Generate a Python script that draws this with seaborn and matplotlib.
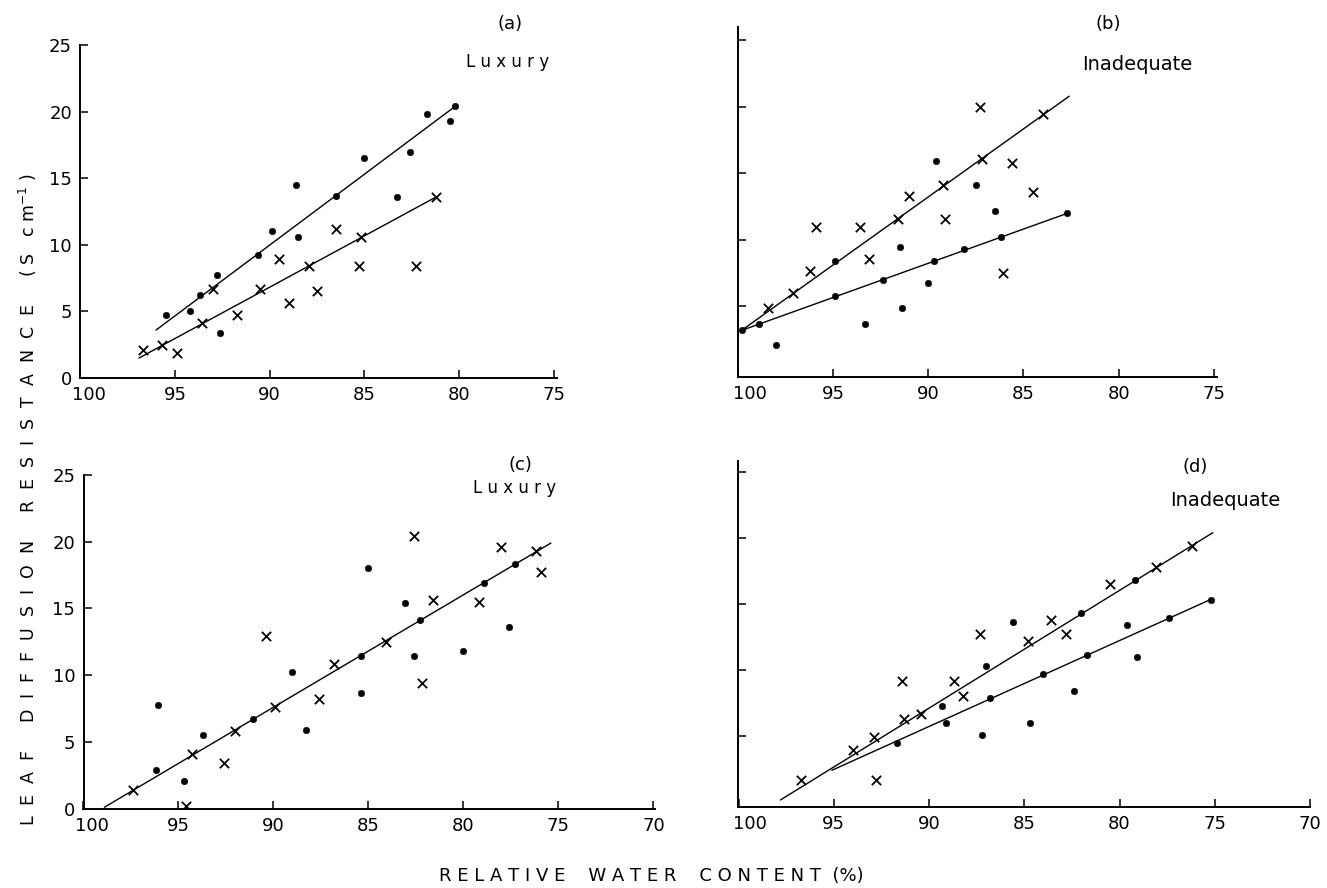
import matplotlib
matplotlib.use("Agg")
import matplotlib.pyplot as plt
import matplotlib.transforms as mtransforms
import seaborn as sns

# Panel (a) Luxury
a_cross_x = [96.7, 95.7, 94.9, 93.6, 93.0, 91.7, 90.5, 89.5, 89.0, 87.9, 87.5, 86.5, 85.3, 85.2, 82.3, 81.2]
a_cross_y = [2.1, 2.5, 1.9, 4.1, 6.7, 4.7, 6.7, 8.9, 5.6, 8.4, 6.5, 11.2, 8.4, 10.6, 8.4, 13.6]
a_dot_x = [95.5, 94.2, 93.7, 92.8, 92.6, 90.6, 89.9, 88.6, 88.5, 86.5, 85.0, 83.3, 82.6, 81.7, 80.5, 80.2]
a_dot_y = [4.7, 5.0, 6.2, 7.7, 3.4, 9.2, 11.0, 14.5, 10.6, 13.7, 16.5, 13.6, 17.0, 19.8, 19.3, 20.4]
a_line_dot_x, a_line_dot_y = [96.0, 80.2], [3.6, 20.4]
a_line_cross_x, a_line_cross_y = [96.9, 81.2], [1.5, 13.6]

# Panel (b) Inadequate
b_cross_x = [98.4, 97.1, 96.2, 95.9, 93.6, 93.1, 91.6, 91.0, 89.2, 89.1, 87.3, 87.2, 86.1, 85.6, 84.5, 84.0]
b_cross_y = [4.9, 6.0, 7.7, 11.0, 11.0, 8.6, 11.6, 13.3, 14.1, 11.6, 20.0, 16.1, 7.5, 15.8, 13.6, 19.5]
b_dot_x = [99.8, 98.9, 98.0, 94.9, 94.9, 93.3, 92.4, 91.5, 91.4, 90.0, 89.7, 89.6, 88.1, 87.5, 86.5, 86.2, 82.7]
b_dot_y = [3.2, 3.7, 2.1, 8.4, 5.8, 3.7, 7.0, 9.5, 4.9, 6.8, 8.4, 15.9, 9.3, 14.1, 12.2, 10.2, 12.0]
b_line_cross_x, b_line_cross_y = [99.8, 82.6], [3.2, 20.8]
b_line_dot_x, b_line_dot_y = [99.8, 82.7], [3.2, 12.0]

# Panel (c) Luxury
c_cross_x = [97.4, 94.6, 94.3, 92.6, 92.0, 90.4, 89.9, 87.6, 86.8, 84.1, 82.6, 81.6, 82.2, 79.2, 78.0, 76.2, 75.9]
c_cross_y = [1.4, 0.2, 4.1, 3.4, 5.8, 12.9, 7.6, 8.2, 10.8, 12.5, 20.4, 15.6, 9.4, 15.5, 19.6, 19.3, 17.7]
c_dot_x = [96.1, 96.2, 94.7, 93.7, 91.1, 89.0, 88.3, 85.4, 85.4, 85.0, 83.1, 82.6, 82.3, 80.0, 78.9, 77.6, 77.3]
c_dot_y = [7.8, 2.9, 2.1, 5.5, 6.7, 10.2, 5.9, 8.7, 11.4, 18.0, 15.4, 11.4, 14.1, 11.8, 16.9, 13.6, 18.3]
c_line_x, c_line_y = [98.9, 75.4], [0.1, 19.9]

# Panel (d) Inadequate
d_cross_x = [96.7, 92.8, 94.0, 92.9, 91.3, 91.4, 90.4, 88.7, 88.2, 87.3, 84.8, 83.6, 82.8, 80.5, 78.1, 76.2]
d_cross_y = [1.7, 1.7, 3.9, 4.9, 6.3, 9.2, 6.7, 9.2, 8.0, 12.7, 12.2, 13.8, 12.7, 16.5, 17.8, 19.4]
d_dot_x = [91.7, 89.3, 89.1, 87.2, 87.0, 86.8, 85.6, 84.7, 84.0, 82.4, 82.0, 81.7, 79.6, 79.2, 79.1, 77.4, 75.2]
d_dot_y = [4.5, 7.3, 6.0, 5.1, 10.3, 7.9, 13.6, 6.0, 9.7, 8.4, 14.3, 11.1, 13.4, 16.8, 11.0, 13.9, 15.3]
d_line_cross_x, d_line_cross_y = [97.8, 75.1], [0.15, 20.4]
d_line_dot_x, d_line_dot_y = [95.1, 75.2], [2.4, 15.35]

y_ticks = [0, 5, 10, 15, 20, 25]

sns.set_style("ticks")
plt.rcParams["font.family"] = ["DejaVu Sans"]

W, H = 1327, 888
fig = plt.figure(figsize=(W / 100, H / 100), dpi=100)


def make_axes(left, top, right, bottom):
    # pixel box (from the top-left) -> figure fraction
    return fig.add_axes([left / W, 1 - bottom / H, (right - left) / W, (bottom - top) / H])


def style_axes(ax, xlim, ylim, xticks, show_ylabels, shift_100):
    ax.set_xlim(*xlim)
    ax.set_ylim(*ylim)
    ax.set_xticks(xticks)
    ax.set_xticklabels([str(t) for t in xticks])
    if show_ylabels:
        ax.set_yticks(y_ticks)
        ax.set_yticklabels([str(t) for t in y_ticks])
    else:
        ax.set_yticks(y_ticks[1:])
        ax.set_yticklabels([])
    ax.set_xlabel("")
    ax.set_ylabel("")
    sns.despine(ax=ax)
    for s in ["left", "bottom"]:
        ax.spines[s].set_linewidth(1.4)
        ax.spines[s].set_color("black")
    ax.tick_params(direction="in", length=6, width=1.1, labelsize=13, colors="black", pad=6)
    # the "100" label sits a little right of the corner in the original
    lab = ax.get_xticklabels()[0]
    lab.set_transform(lab.get_transform() +
                      mtransforms.ScaledTranslation(shift_100 / 100, 0, fig.dpi_scale_trans))


def draw(ax, cx, cy, dx, dy, lines):
    for lx, ly in lines:
        sns.lineplot(x=lx, y=ly, ax=ax, color="black", linewidth=1.0)
    sns.scatterplot(x=cx, y=cy, ax=ax, marker="x", s=45, color="black", linewidth=1.3)
    sns.scatterplot(x=dx, y=dy, ax=ax, marker="o", s=22, color="black", edgecolor="black")


ax_a = make_axes(80.3, 45, 557, 378)
draw(ax_a, a_cross_x, a_cross_y, a_dot_x, a_dot_y,
     [(a_line_dot_x, a_line_dot_y), (a_line_cross_x, a_line_cross_y)])
style_axes(ax_a, (100, 74.83), (0, 25), [100, 95, 90, 85, 80, 75], True, 9)

ax_b = make_axes(737.7, 27, 1216.7, 377)
draw(ax_b, b_cross_x, b_cross_y, b_dot_x, b_dot_y,
     [(b_line_cross_x, b_line_cross_y), (b_line_dot_x, b_line_dot_y)])
style_axes(ax_b, (100, 74.86), (-0.3, 26), [100, 95, 90, 85, 80, 75], False, 12)

ax_c = make_axes(83.5, 475, 655, 808.6)
draw(ax_c, c_cross_x, c_cross_y, c_dot_x, c_dot_y, [(c_line_x, c_line_y)])
style_axes(ax_c, (100, 69.92), (0, 25), [100, 95, 90, 85, 80, 75, 70], True, 8)

ax_d = make_axes(738.5, 461.4, 1310, 806.6)
draw(ax_d, d_cross_x, d_cross_y, d_dot_x, d_dot_y,
     [(d_line_cross_x, d_line_cross_y), (d_line_dot_x, d_line_dot_y)])
style_axes(ax_d, (100, 70), (-0.35, 25.8), [100, 95, 90, 85, 80, 75, 70], False, 11)


def ftext(x, y, s, size=13, **kw):
    fig.text(x / W, 1 - y / H, s, ha="center", va="center", fontsize=size, color="black", **kw)


def spaced(words, gap, wordgap):
    return wordgap.join(gap.join(w) for w in words)


ftext(510, 24, "(a)")
ftext(508, 62, "L u x u r y", size=12)
ftext(1108, 24, "(b)")
ftext(1137, 64, "Inadequate", size=14)
ftext(520, 465, "(c)")
ftext(515, 488, "L u x u r y", size=12)
ftext(1195, 467, "(d)")
ftext(1225, 500, "Inadequate", size=14)

ftext(651, 876, spaced(["RELATIVE", "WATER", "CONTENT"], " ", "    ") + "  (%)")
ftext(28, 500, spaced(["LEAF", "DIFFUSION", "RESISTANCE"], "  ", "     ") + "     ( S   c m$^{-1}$ )",
      size=12.5, rotation=90)

fig.savefig("out.png", dpi=100)
